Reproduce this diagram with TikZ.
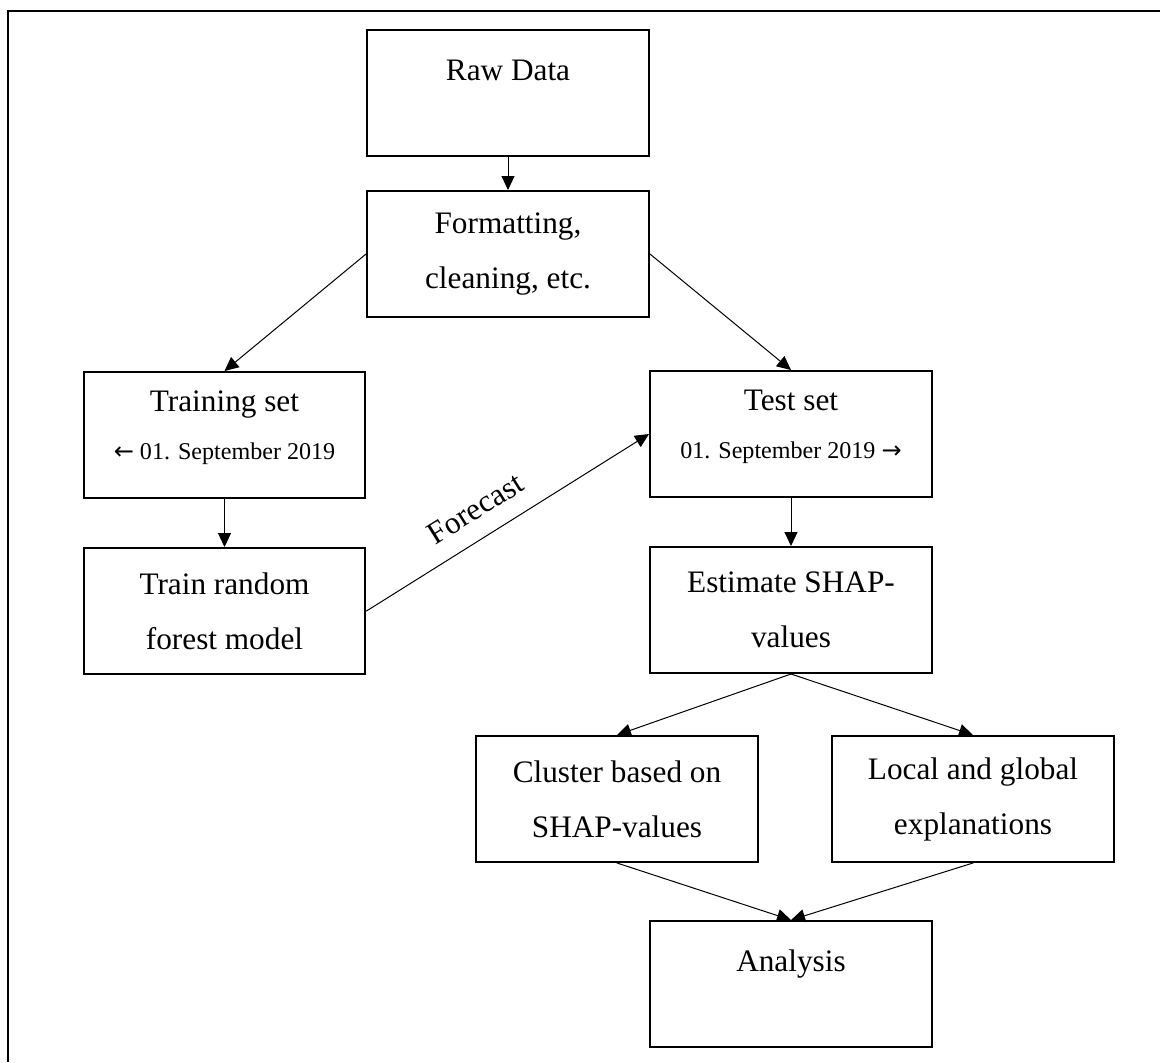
\documentclass[tikz,border=0pt]{standalone}
\usepackage{fontspec}
\setmainfont{Liberation Serif}
\newfontfamily\arrowfont{DejaVu Sans}
\usetikzlibrary{arrows.meta}
\newcommand\datefont{\fontsize{13.7}{15}\selectfont}

\begin{document}
\begin{tikzpicture}
[x=0.02cm,y=-0.02cm,line cap=round,
% Styles
box/.style={draw,line width=0.04cm,minimum width=5.64cm,minimum height=2.52cm,
  inner sep=0pt,align=center,font=\fontsize{17.8}{31.3}\selectfont},
one line/.style={text height=0pt,text depth=0.52cm},
date box/.style={text depth=0.38cm},
connector/.style={line width=0.02cm,->},
>={Triangle[length=0.28cm,width=0.26cm]}]

\useasboundingbox (0,0) rectangle (1160,1062);
% Frame
\draw[line width=0.05cm,line cap=butt] (8,1062) -- (8,11) -- (1160,11);

% The boxes
\node[box,one line] (raw) at (508,93) {Raw Data};
\node[box] (format) at (508,254) {Formatting,\\cleaning, etc.};
\node[box,date box] (trainset) at (224.5,435) {Training set\\[-0.14cm]{\datefont{\arrowfont ←} 01. September 2019}};
\node[box,date box] (testset) at (791,434) {Test set\\[-0.14cm]{\datefont 01. September 2019 {\arrowfont →}}};
\node[box] (model) at (224.5,611) {Train random\\forest model};
\node[box] (shap) at (791,610) {Estimate SHAP-\\values};
\node[box] (cluster) at (617,799) {Cluster based on\\SHAP-values};
\node[box] (explain) at (973,799) {Local and global\\explanations};
\node[box,one line] (analysis) at (791,984) {Analysis};

% The connectors
\draw[connector] (raw) -- (format);
\draw[connector] (format.west) -- (trainset.north);
\draw[connector] (format.east) -- (testset.north);
\draw[connector] (trainset) -- (model);
\draw[connector] (model.east) -- node[sloped,above=0.36cm,pos=0.44,inner sep=0pt,
  font=\fontsize{17.8}{20}\selectfont] (forecast) {Forecast} (testset.west);
\draw[connector] (testset) -- (shap);
\draw[connector] (shap.south) -- (cluster.north);
\draw[connector] (shap.south) -- (explain.north);
\draw[connector] (cluster.south) -- (analysis.north);
\draw[connector] (explain.south) -- (analysis.north);
\end{tikzpicture}
\end{document}
